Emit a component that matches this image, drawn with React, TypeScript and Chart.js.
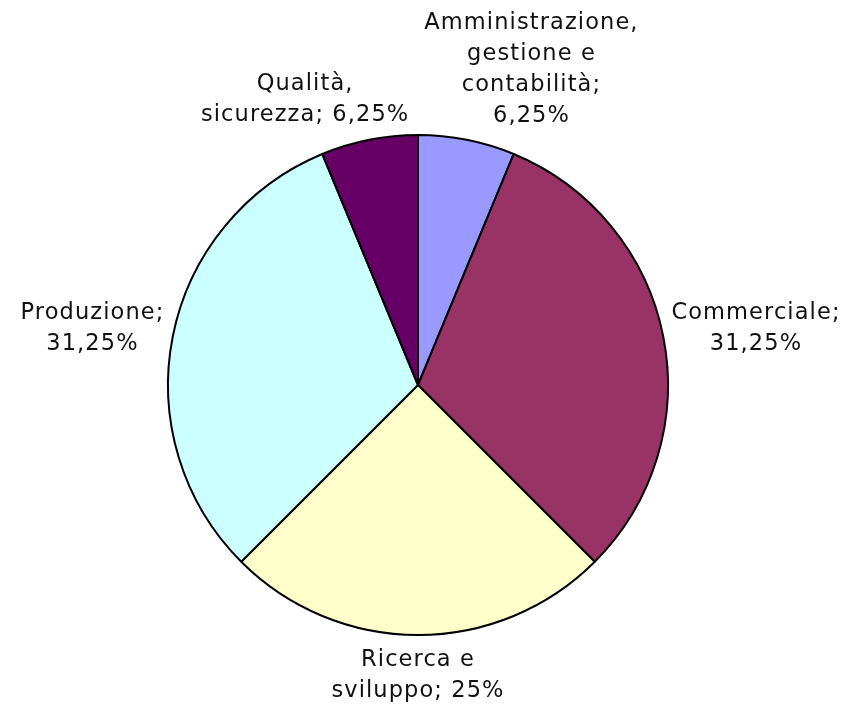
import React, { useEffect, useRef } from "react";
import { Chart, registerables } from "chart.js";

Chart.register(...registerables);

const categories = [
  "Amministrazione, gestione e contabilità",
  "Commerciale",
  "Ricerca e sviluppo",
  "Produzione",
  "Qualità, sicurezza",
];
const values = [6.25, 31.25, 25, 31.25, 6.25];
const colors = ["#9999FF", "#993366", "#FFFFCC", "#CCFFFF", "#660066"];

const FONT = "22.5px 'DejaVu Sans'";
const LETTER = "1.1px";
const LINE_H = 31;
const WRAP_W = 214;
const GAP = 10;

function fmtPct(v: number, total: number) {
  const p = Math.round((v / total) * 10000) / 100;
  return p.toString().replace(".", ",") + "%";
}

function wrap(ctx: CanvasRenderingContext2D, text: string, maxW: number) {
  const words = text.split(" ");
  const lines: string[] = [];
  let cur = "";
  for (const w of words) {
    const test = cur ? cur + " " + w : w;
    if (cur && ctx.measureText(test).width > maxW) {
      lines.push(cur);
      cur = w;
    } else cur = test;
  }
  if (cur) lines.push(cur);
  return lines;
}

const labelPlugin = {
  id: "outLabels",
  afterDraw(chart: any) {
    const ctx: CanvasRenderingContext2D = chart.ctx;
    const meta = chart.getDatasetMeta(0);
    const total = values.reduce((a, b) => a + b, 0);
    ctx.save();
    ctx.font = FONT;
    (ctx as any).letterSpacing = LETTER;
    const boxes: any[] = [];
    meta.data.forEach((arc: any, i: number) => {
      const text = `${categories[i]}; ${fmtPct(values[i], total)}`;
      const lines = wrap(ctx, text, WRAP_W);
      const w = Math.max(...lines.map((l) => ctx.measureText(l).width));
      const h = lines.length * LINE_H;
      const mid = (arc.startAngle + arc.endAngle) / 2;
      const dx = Math.cos(mid);
      const dy = Math.sin(mid);
      const r = arc.outerRadius + GAP;
      const ax = arc.x + dx * r;
      const ay = arc.y + dy * r;
      boxes.push({ lines, w, h, cx: ax + (dx * w) / 2, cy: ay + (dy * h) / 2 });
    });
    // simple horizontal overlap avoidance
    for (let a = 0; a < boxes.length; a++) {
      for (let b = a + 1; b < boxes.length; b++) {
        const A = boxes[a];
        const B = boxes[b];
        const vOver = Math.abs(A.cy - B.cy) < (A.h + B.h) / 2;
        const need = (A.w + B.w) / 2 + 15 - Math.abs(A.cx - B.cx);
        if (vOver && need > 0) {
          const s = A.cx >= B.cx ? 1 : -1;
          A.cx += (s * need) / 2;
          B.cx -= (s * need) / 2;
        }
      }
    }
    ctx.fillStyle = "#111111";
    ctx.textAlign = "center";
    ctx.textBaseline = "middle";
    boxes.forEach((bx) => {
      const top = bx.cy - bx.h / 2;
      bx.lines.forEach((l: string, k: number) => {
        ctx.fillText(l, bx.cx, top + LINE_H * (k + 0.5));
      });
    });
    ctx.restore();
  },
};

export default function App() {
  const ref = useRef<HTMLCanvasElement>(null);
  useEffect(() => {
    if (!ref.current) return;
    const chart = new Chart(ref.current, {
      type: "pie",
      data: {
        labels: categories,
        datasets: [
          {
            data: values,
            backgroundColor: colors,
            borderColor: "#000000",
            borderWidth: 2,
          },
        ],
      },
      options: {
        responsive: false,
        animation: false,
        layout: { padding: { left: 167, top: 134, right: 184, bottom: 70 } },
        plugins: {
          legend: { display: false },
          tooltip: { enabled: false },
        },
      },
      plugins: [labelPlugin],
    });
    return () => chart.destroy();
  }, []);
  return (
    <div style={{ position: "absolute", left: 0, top: 0, width: 853, height: 706, background: "#fff" }}>
      <canvas ref={ref} width={853} height={706} />
    </div>
  );
}
